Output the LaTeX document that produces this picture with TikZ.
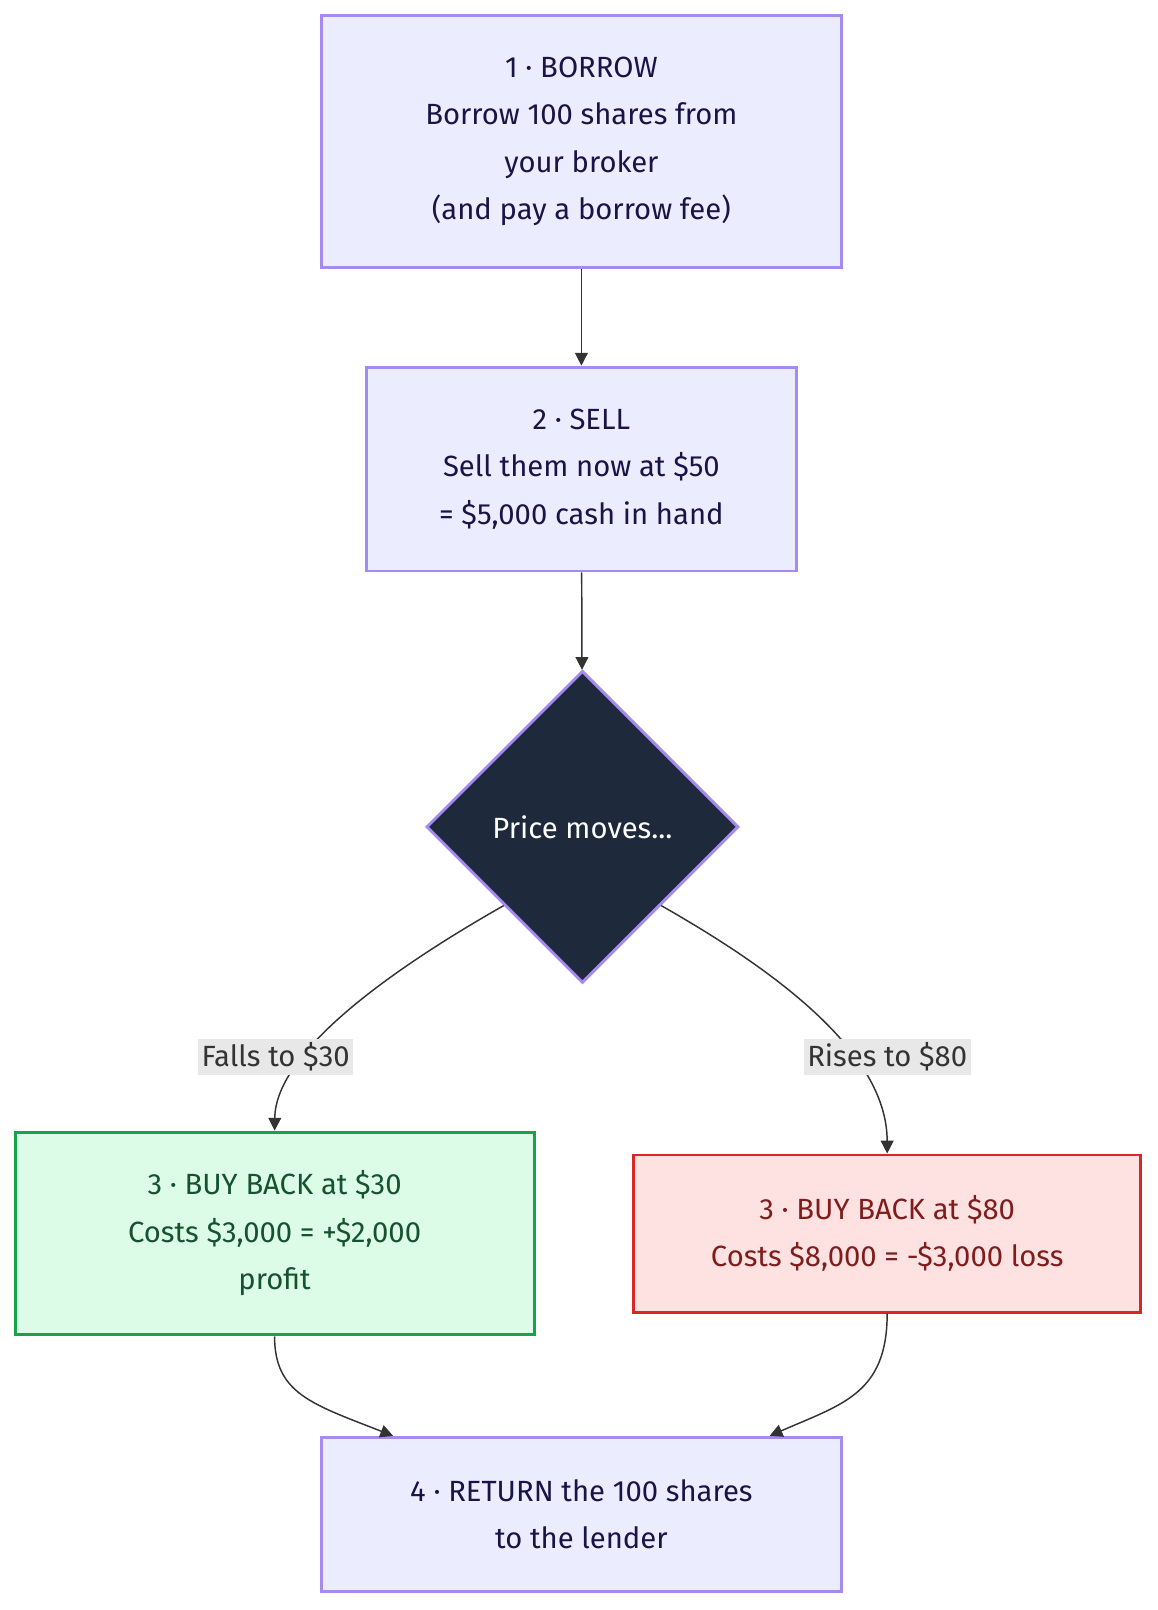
\documentclass[tikz,border=0pt]{standalone}
\usepackage{fontspec}
\setmainfont{Fira Sans}
\usetikzlibrary{arrows.meta,shapes.geometric,positioning}
\definecolor{boxfill}{HTML}{ECECFF}
\definecolor{boxline}{HTML}{A58BF0}
\definecolor{boxtext}{HTML}{1A1446}
\definecolor{winfill}{HTML}{DCFCE7}
\definecolor{winline}{HTML}{16A34A}
\definecolor{wintext}{HTML}{14532D}
\definecolor{lossfill}{HTML}{FEE2E2}
\definecolor{lossline}{HTML}{DC2626}
\definecolor{losstext}{HTML}{7F1D1D}
\definecolor{decfill}{HTML}{1E293B}
\definecolor{edgeclr}{HTML}{333333}
\definecolor{lblfill}{HTML}{E8E8E8}
\begin{document}
\begin{tikzpicture}[x=0.02cm,y=-0.02cm,
    font=\fontsize{16}{26}\selectfont,
    stage/.style={draw=boxline,fill=boxfill,text=boxtext,line width=1.6pt,
      align=center,inner sep=0pt},
    win/.style={stage,draw=winline,fill=winfill,text=wintext},
    loss/.style={stage,draw=lossline,fill=lossfill,text=losstext},
    flow/.style={draw=edgeclr,line width=0.8pt,-{Triangle[length=7pt,width=7pt]}},
    lbl/.style={fill=lblfill,text=edgeclr,inner sep=2pt}]
  \useasboundingbox (0,0) rectangle (1113,1548);

  % Etapes
  \node[stage,minimum width=500*0.02cm,minimum height=242*0.02cm] (borrow) at (559,136)
    {1 · BORROW\\Borrow 100 shares from\\your broker\\(and pay a borrow fee)};
  \node[stage,minimum width=414*0.02cm,minimum height=196*0.02cm] (sell) at (559,451)
    {2 · SELL\\Sell them now at \$50\\= \$5,000 cash in hand};
  \node[diamond,draw=boxline,fill=decfill,text=white,line width=1.6pt,
    minimum width=300*0.02cm,minimum height=300*0.02cm,inner sep=0pt] (move) at (560,795)
    {Price moves...};
  \node[win,minimum width=499*0.02cm,minimum height=195*0.02cm] (cover30) at (264,1186)
    {3 · BUY BACK at \$30\\Costs \$3,000 = +\$2,000\\profit};
  \node[loss,minimum width=487*0.02cm,minimum height=151*0.02cm] (cover80) at (853,1186)
    {3 · BUY BACK at \$80\\Costs \$8,000 = -\$3,000 loss};
  \node[stage,minimum width=500*0.02cm,minimum height=148*0.02cm] (return) at (559,1456)
    {4 · RETURN the 100 shares\\to the lender};

  % Liens
  \draw[flow] (borrow) -- (sell);
  \draw[flow] (sell) -- (move);
  \draw[flow] (move.south west) .. controls (380,930) and (265,1010) .. (cover30.north);
  \draw[flow] (move.south east) .. controls (740,930) and (853,1010) .. (cover80.north);
  \node[lbl] (fall) at (265,1016) {Falls to \$30};
  \node[lbl] (rise) at (853,1016) {Rises to \$80};
  \draw[flow] (cover30.south) .. controls (264,1340) and (300,1350) .. ([xshift=-181*0.02cm]return.north);
  \draw[flow] (cover80.south) .. controls (853,1340) and (810,1350) .. ([xshift=181*0.02cm]return.north);
\end{tikzpicture}
\end{document}
